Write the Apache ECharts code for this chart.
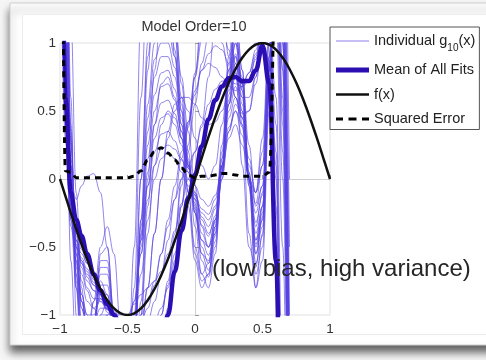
<!DOCTYPE html>
<html lang="en">
<head>
    <meta charset="UTF-8">
    <title>Model Order=10</title>
    <script type="text/javascript" src="https://cdn.jsdelivr.net/npm/echarts@6/dist/echarts.min.js"></script>
    <style>
        html, body { margin: 0; padding: 0; background: #f6f6f6; }
        #chart { width: 486px; height: 360px; }
    </style>
</head>
<body>
<div id="chart"></div>
<script>
    // x positions shared by the fitted curves
    var xs = [-1, -0.96, -0.92, -0.88, -0.84, -0.8, -0.75, -0.7, -0.65, -0.6, -0.55,
        -0.5, -0.45, -0.4, -0.35, -0.3, -0.25, -0.2, -0.15, -0.1, -0.05,
        0, 0.05, 0.1, 0.15, 0.2, 0.25, 0.3, 0.35, 0.4, 0.45, 0.5, 0.55, 0.6, 0.65, 0.7];

    // individual g10(x) fits (values outside [-1,1] are clipped)
    var osc1 = [3.0, 1.1, 0.0, -0.4, -0.62, -0.75, -0.82, -0.85, -0.92, -1.0, -1.08,
        -1.08, -0.9, -0.55, -0.15, 0.1, 0.22, 0.25, 0.22, 0.14, 0.05,
        -0.05, -0.15, -0.2, -0.12, 0.08, 0.3, 0.4, 0.25, 0.0, -0.1, 0.3, 1.1, 1.2, -0.5, -4];
    var osc2 = [3.5, 1.4, 0.1, -0.45, -0.75, -0.9, -0.95, -0.9, -0.95, -1.05, -1.2,
        -1.2, -1.0, -0.55, -0.05, 0.3, 0.45, 0.48, 0.4, 0.25, 0.08,
        -0.1, -0.28, -0.35, -0.22, 0.1, 0.45, 0.6, 0.38, 0.0, -0.25, -0.05, 0.9, 1.6, 0.2, -3];
    var osc3 = [4, 1.8, 0.25, -0.55, -0.95, -1.1, -1.05, -0.85, -0.85, -1.1, -1.35,
        -1.4, -1.1, -0.45, 0.15, 0.5, 0.68, 0.7, 0.58, 0.35, 0.1,
        -0.15, -0.4, -0.5, -0.32, 0.08, 0.55, 0.78, 0.5, 0.0, -0.4, -0.2, 0.8, 2.0, 1.0, -2];
    var osc4 = [4.5, 2.0, 0.3, -0.7, -1.2, -1.3, -1.05, -0.7, -0.7, -1.05, -1.5,
        -1.6, -1.2, -0.4, 0.35, 0.75, 0.9, 0.9, 0.75, 0.45, 0.12,
        -0.2, -0.5, -0.62, -0.42, 0.05, 0.62, 0.92, 0.6, 0.0, -0.55, -0.35, 0.7, 2.2, 1.5, -1.5];
    var osc5 = [5, 2.4, 0.4, -0.8, -1.4, -1.5, -1.1, -0.6, -0.6, -1.0, -1.6,
        -1.8, -1.3, -0.3, 0.55, 1.0, 1.12, 1.1, 0.9, 0.55, 0.15,
        -0.25, -0.6, -0.72, -0.5, 0.05, 0.75, 1.1, 0.7, -0.05, -0.7, -0.5, 0.6, 2.5, 2.5, 0];
    var osc6 = [6, 3, 0.6, -1.0, -1.7, -1.8, -1.3, -0.55, -0.5, -1.0, -1.8,
        -2.1, -1.2, 0.0, 0.9, 1.35, 1.45, 1.35, 1.05, 0.6, 0.1,
        -0.35, -0.7, -0.8, -0.55, 0.1, 0.9, 1.3, 0.8, -0.05, -0.8, -0.6, 0.5, 2.8, 1.2, -2];
    var osc7 = [2.8, 1.0, -0.05, -0.42, -0.65, -0.8, -0.88, -0.88, -0.95, -1.05, -1.15,
        -1.12, -0.9, -0.45, -0.05, 0.2, 0.33, 0.35, 0.28, 0.15, 0.0,
        -0.12, -0.22, -0.26, -0.15, 0.1, 0.38, 0.5, 0.32, 0.02, -0.18, 0.1, 1.0, 1.4, 0.0, -3.5];
    var osc8 = [3.8, 1.6, 0.15, -0.5, -0.85, -1.0, -1.0, -0.88, -0.9, -1.08, -1.28,
        -1.3, -1.05, -0.5, 0.05, 0.4, 0.56, 0.58, 0.48, 0.3, 0.08,
        -0.12, -0.34, -0.42, -0.27, 0.1, 0.5, 0.68, 0.45, 0.02, -0.32, -0.12, 0.85, 1.8, 0.6, -2.5];
    var osc9 = [4.2, 1.9, 0.28, -0.62, -1.05, -1.2, -1.05, -0.78, -0.78, -1.08, -1.42,
        -1.5, -1.15, -0.42, 0.25, 0.62, 0.78, 0.8, 0.66, 0.4, 0.1,
        -0.18, -0.45, -0.56, -0.37, 0.06, 0.58, 0.85, 0.55, 0.0, -0.48, -0.28, 0.75, 2.1, 1.2, -1.8];
    var osc10 = [4.8, 2.2, 0.35, -0.75, -1.3, -1.4, -1.08, -0.65, -0.65, -1.02, -1.55,
        -1.7, -1.25, -0.35, 0.45, 0.88, 1.0, 1.0, 0.82, 0.5, 0.13,
        -0.22, -0.55, -0.67, -0.46, 0.05, 0.68, 1.0, 0.65, -0.02, -0.62, -0.42, 0.65, 2.4, 2.0, -0.5];
    var fol1 = [2.5, 0.5, -0.2, -0.4, -0.52, -0.62, -0.74, -0.84, -0.92, -0.98, -1.02,
        -1.05, -1.08, -1.05, -0.95, -0.78, -0.55, -0.3, -0.05, 0.2, 0.42,
        0.62, 0.8, 0.92, 0.98, 0.95, 0.85, 0.75, 0.7, 0.78, 0.95, 1.15, 1.1, 0.2, -2.5, -6];
    var fol2 = [3, 0.8, -0.15, -0.5, -0.62, -0.7, -0.78, -0.85, -0.92, -1.0, -1.1,
        -1.2, -1.3, -1.35, -1.3, -1.2, -1.0, -0.75, -0.4, 0.0, 0.4,
        0.75, 1.02, 1.2, 1.25, 1.15, 0.95, 0.75, 0.6, 0.6, 0.75, 1.05, 1.2, 0.4, -2, -5];
    var fol3 = [2, 0.3, -0.35, -0.55, -0.7, -0.82, -0.95, -1.05, -1.12, -1.15, -1.15,
        -1.15, -1.2, -1.25, -1.3, -1.3, -1.2, -0.95, -0.6, -0.2, 0.2,
        0.55, 0.85, 1.05, 1.1, 1.0, 0.8, 0.6, 0.48, 0.5, 0.7, 1.0, 1.15, 0.0, -3, -7];
    var fol4 = [3.5, 1.0, -0.05, -0.35, -0.45, -0.55, -0.7, -0.85, -0.98, -1.05, -1.05,
        -1.0, -0.92, -0.85, -0.8, -0.75, -0.68, -0.55, -0.38, -0.18, 0.0,
        0.2, 0.38, 0.55, 0.66, 0.72, 0.72, 0.7, 0.68, 0.72, 0.88, 1.1, 1.05, -0.2, -3, -6];
    var fol5 = [3, 1.3, 0.1, -0.5, -0.9, -1.1, -1.15, -1.0, -0.9, -1.0, -1.25,
        -1.5, -1.0, 0.0, 1.0, 1.6, 1.8, 1.6, 1.1, 0.5, -0.1,
        -0.55, -0.75, -0.7, -0.4, 0.15, 0.75, 1.05, 0.7, 0.05, -0.5, -0.3, 0.7, 2.3, 2.0, -1];
    var wild1 = [6, 4, 1.2, -0.1, -0.8, -1.2, -1.4, -1.2, -1.0, -0.95, -1.0,
        -1.1, -1.2, -1.1, -0.8, -0.4, 0.0, 0.3, 0.5, 0.6, 0.6,
        0.55, 0.45, 0.4, 0.42, 0.5, 0.65, 0.8, 0.9, 0.95, 1.0, 1.05, 1.1, 1.5, 1.0, -2];
    var wild2 = [4, 1.5, 0.0, -0.15, -0.05, 0.02, 0.04, -0.1, -0.5, -1.0, -1.5,
        -1.7, -1.5, -1.0, -0.4, 0.1, 0.4, 0.5, 0.45, 0.3, 0.1,
        -0.1, -0.3, -0.4, -0.3, 0.0, 0.35, 0.55, 0.45, 0.15, -0.1, 0.1, 0.9, 1.8, 0.5, -3];
    var wild3 = [3, 0.7, -0.25, -0.6, -0.85, -1.0, -1.1, -1.1, -1.05, -1.05, -1.1,
        -1.2, -1.25, -1.1, -0.8, -0.4, 0.0, 0.35, 0.55, 0.6, 0.5,
        0.3, 0.1, 0.0, 0.1, 0.4, 0.8, 0.9, 0.4, -0.4, -0.8, -0.4, 0.8, 2, 1.2, -2];
    var ris1 = [3, 0.9, -0.2, -0.6, -0.9, -1.05, -1.05, -0.95, -0.95, -1.1, -1.4,
        -1.6, -0.8, 0.6, 1.6, 2.0, 1.9, 1.5, 0.95, 0.4, -0.1,
        -0.5, -0.7, -0.62, -0.3, 0.25, 0.85, 1.1, 0.7, 0.0, -0.45, -0.2, 0.9, 2.5, 1.5, -2];
    var ris2 = [3.5, 1.2, -0.1, -0.7, -1.05, -1.2, -1.2, -1.05, -1.0, -1.15, -1.4,
        -1.6, -1.5, -0.9, 0.0, 0.8, 1.25, 1.35, 1.15, 0.75, 0.35,
        -0.05, -0.35, -0.5, -0.4, 0.0, 0.55, 0.9, 0.75, 0.25, -0.2, -0.05, 0.8, 2, 0.8, -3];
    var ris3 = [3.2, 1.0, -0.2, -0.65, -0.95, -1.1, -1.1, -1.0, -1.0, -1.2, -1.5,
        -1.5, -0.5, 1.2, 2.2, 2.5, 2.2, 1.6, 0.9, 0.3, -0.2,
        -0.6, -0.8, -0.7, -0.35, 0.2, 0.8, 1.2, 0.8, 0.05, -0.55, -0.3, 0.8, 2.6, 2.0, -1.5];
    var ris4 = [3.6, 1.3, 0.0, -0.55, -0.9, -1.05, -1.1, -1.05, -1.1, -1.3, -1.6,
        -1.9, -1.4, -0.3, 0.8, 1.5, 1.7, 1.55, 1.2, 0.7, 0.2,
        -0.25, -0.55, -0.6, -0.35, 0.15, 0.7, 1.0, 0.65, 0.0, -0.45, -0.25, 0.85, 2.3, 1.8, -2];
    var vert1 = [2.5, 0.4, -0.3, -0.5, -0.6, -0.68, -0.78, -0.88, -0.96, -1.02, -1.05,
        -1.08, -1.1, -1.12, -1.1, -1.05, -0.95, -0.8, -0.55, -0.2, 0.25,
        0.75, 1.25, 1.6, 1.6, 1.3, 0.9, 0.6, 0.45, 0.5, 0.75, 1.1, 1.2, 0.6, -1.5, -5];
    var vert2 = [3, 0.6, -0.2, -0.45, -0.55, -0.62, -0.72, -0.82, -0.9, -0.97, -1.02,
        -1.05, -1.05, -1.0, -0.9, -0.75, -0.55, -0.35, -0.15, 0.0, 0.1,
        0.2, 0.4, 0.75, 1.15, 1.4, 1.3, 0.8, 0.1, -0.5, -0.65, -0.2, 0.8, 1.8, 0.8, -3];
    var vert3 = [2.6, 0.5, -0.25, -0.48, -0.58, -0.66, -0.76, -0.86, -0.94, -1.0, -1.05,
        -1.1, -1.15, -1.2, -1.2, -1.12, -1.0, -0.78, -0.45, -0.05, 0.38,
        0.78, 1.1, 1.35, 1.4, 1.25, 1.05, 0.85, 0.7, 0.72, 0.9, 1.15, 1.1, 0.1, -2.5, -6];
    var low1 = [3, 0.8, -0.3, -0.8, -1.1, -1.15, -0.9, -0.5, -0.35, -0.55, -1.1,
        -1.6, -1.6, -1.0, -0.2, 0.4, 0.7, 0.75, 0.6, 0.35, 0.05,
        -0.25, -0.45, -0.5, -0.3, 0.1, 0.55, 0.75, 0.5, 0.0, -0.35, -0.1, 0.8, 1.9, 1.0, -2.5];
    var low2 = [4, 1.0, -0.6, -1.3, -1.5, -1.3, -0.9, -0.75, -0.85, -1.1, -1.3,
        -1.3, -1.1, -0.7, -0.3, 0.0, 0.15, 0.2, 0.15, 0.05, -0.05,
        -0.15, -0.25, -0.3, -0.2, 0.05, 0.35, 0.5, 0.4, 0.1, -0.1, 0.2, 1.0, 1.6, 0.4, -3];
    var right1 = [2.8, 0.9, -0.1, -0.45, -0.6, -0.72, -0.82, -0.9, -0.96, -1.02, -1.08,
        -1.12, -1.15, -1.12, -1.05, -0.9, -0.7, -0.45, -0.15, 0.15, 0.42,
        0.65, 0.8, 0.85, 0.82, 0.75, 0.68, 0.65, 0.68, 0.78, 0.92, 1.1, 1.3, 1.5, 1.3, -1.5];

    // mean of all fits
    var meanFit = [4, 0.6, -0.1, -0.3, -0.42, -0.55, -0.7, -0.82, -0.92, -1.0, -1.08,
        -1.15, -1.25, -1.35, -1.4, -1.4, -1.25, -1.0, -0.68, -0.38, -0.14,
        0.03, 0.24, 0.44, 0.58, 0.68, 0.74, 0.75, 0.72, 0.72, 0.8, 0.98, 0.7, -0.6, -3, -6];
    // squared error
    var sqErr = [5, 0.06, 0.05, 0.01, 0.01, 0.01, 0.01, 0.01, 0.01, 0.01, 0.01,
        0.01, 0.02, 0.06, 0.14, 0.2, 0.23, 0.19, 0.14, 0.08, 0.03,
        0.01, 0.02, 0.02, 0.03, 0.04, 0.04, 0.03, 0.02, 0.02, 0.02, 0.02, 0.05, 1.6, 5, 9];

    // f(x)
    var fxX = [-1, -0.95, -0.9, -0.85, -0.8, -0.75, -0.7, -0.65, -0.6, -0.55, -0.5, -0.45, -0.4, -0.35, -0.3,
        -0.25, -0.2, -0.15, -0.1, -0.05, 0, 0.05, 0.1, 0.15, 0.2, 0.25, 0.3, 0.35, 0.4, 0.45, 0.5,
        0.55, 0.6, 0.65, 0.7, 0.75, 0.8, 0.85, 0.9, 0.95, 1];
    var fxY = [0, -0.156, -0.309, -0.454, -0.588, -0.707, -0.809, -0.891, -0.951, -0.988, -1, -0.988, -0.951, -0.891, -0.809,
        -0.707, -0.588, -0.454, -0.309, -0.156, 0, 0.156, 0.309, 0.454, 0.588, 0.707, 0.809, 0.891, 0.951, 0.988, 1,
        0.988, 0.951, 0.891, 0.809, 0.707, 0.588, 0.454, 0.309, 0.156, 0];

    var thinFits = [osc1, osc2, osc3, osc4, osc5, osc6, osc7, osc8, osc9, osc10,
        fol1, fol2, fol3, fol4, fol5, wild1, wild2, wild3,
        ris1, ris2, ris3, ris4, vert1, vert2, vert3, low1, low2, right1];

    var FONT = 'Liberation Sans, Arial, Helvetica, sans-serif';
    var THIN = 'rgba(88,68,226,0.65)';

    function pairs(x, y) {
        return x.map(function (v, i) { return [v, y[i]]; });
    }
    function minus(v) {
        return String(v).replace('-', '\u2212');
    }

    var chart = echarts.init(document.getElementById('chart'));
    var series = [];
    thinFits.forEach(function (c) {
        series.push({
            name: 'Individual g10(x)',
            type: 'line',
            data: pairs(xs, c),
            symbol: 'none',
            smooth: 0.4,
            smoothMonotone: 'x',
            clip: true,
            lineStyle: { color: THIN, width: 1 },
            itemStyle: { color: THIN },
            z: 2
        });
    });
    series.push({
        name: 'Mean of All Fits', type: 'line', data: pairs(xs, meanFit),
        symbol: 'none', smooth: 0.4, smoothMonotone: 'x', clip: true,
        lineStyle: { color: '#2b0fb2', width: 4.5 }, itemStyle: { color: '#2b0fb2' }, z: 3
    });
    series.push({
        name: 'f(x)', type: 'line', data: pairs(fxX, fxY),
        symbol: 'none', smooth: 0.4, clip: true,
        lineStyle: { color: '#111', width: 2.5 }, itemStyle: { color: '#111' }, z: 4
    });
    series.push({
        name: 'Squared Error', type: 'line', data: pairs(xs, sqErr),
        symbol: 'none', smooth: 0.4, smoothMonotone: 'x', clip: true,
        lineStyle: { color: '#000', width: 3, type: [6, 5] }, itemStyle: { color: '#000' }, z: 5
    });

    var option = {
        animation: false,
        backgroundColor: '#f6f6f6',
        textStyle: { fontFamily: FONT },
        graphic: [
            { type: 'rect', z: -10, shape: { x: 10, y: 3, width: 500, height: 342 },
                style: { fill: '#fff', stroke: '#cfcfcf', lineWidth: 1,
                    shadowBlur: 8, shadowOffsetY: 7, shadowColor: 'rgba(0,0,0,0.6)' } },
            { type: 'rect', z: -9, shape: { x: 22.5, y: 14.5, width: 480, height: 320 },
                style: { fill: '#fff', stroke: '#ececec', lineWidth: 1 } },
            { type: 'text', z: 10, x: 194, y: 27,
                style: { text: 'Model Order=10', fill: '#333', fontSize: 14.5,
                    fontFamily: FONT, textAlign: 'center', textVerticalAlign: 'middle' } },
            { type: 'text', z: 100, x: 212, y: 269,
                style: { text: '(low bias, high variance)', fill: '#262626', fontSize: 24,
                    fontFamily: FONT, textVerticalAlign: 'middle' } }
        ],
        grid: {
            left: 60, right: 156, top: 43, bottom: 45,
            show: true, backgroundColor: '#fff', borderColor: '#e2e2e2', borderWidth: 1
        },
        legend: {
            left: 330, top: 27, orient: 'vertical',
            padding: [6, 4, 3, 6], itemGap: 9.5,
            itemWidth: 33, itemHeight: 14,
            borderColor: '#555', borderWidth: 1, backgroundColor: '#fff',
            data: [
                { name: 'Individual g10(x)', icon: 'path://M0,0M33,14M0,6.5h33v1h-33z',
                    itemStyle: { color: '#8c80ec' } },
                { name: 'Mean of All Fits', icon: 'path://M0,0M33,14M0,4.5h33v5h-33z',
                    itemStyle: { color: '#2b0fb2' } },
                { name: 'f(x)', icon: 'path://M0,0M33,14M0,5.75h33v2.5h-33z',
                    itemStyle: { color: '#111' } },
                { name: 'Squared Error', icon: 'path://M0,0M33,14M0,5.5h7v3h-7zM12.5,5.5h8v3h-8zM26,5.5h7v3h-7z',
                    itemStyle: { color: '#000' } }
            ],
            formatter: function (name) {
                if (name === 'Individual g10(x)') return '{a|Individual g}{s|10}{a|(x)}';
                return '{a|' + name + '}';
            },
            textStyle: {
                color: '#222',
                rich: {
                    a: { fontSize: 14.5, lineHeight: 20, color: '#222', fontFamily: FONT },
                    s: { fontSize: 10, lineHeight: 24, verticalAlign: 'bottom', padding: [10, 0, 0, 0],
                        color: '#222', fontFamily: FONT }
                }
            }
        },
        xAxis: {
            type: 'value', min: -1, max: 1, interval: 0.5,
            axisLine: { lineStyle: { color: '#d0d0d0' } },
            axisTick: { inside: true, length: 4, lineStyle: { color: '#999' } },
            splitLine: { show: false },
            axisLabel: { color: '#333', fontSize: 13.5, margin: 7, formatter: minus }
        },
        yAxis: {
            type: 'value', min: -1, max: 1, interval: 0.5,
            axisLine: { show: true, lineStyle: { color: '#d0d0d0' } },
            axisTick: { show: true, inside: true, length: 4, lineStyle: { color: '#999' } },
            splitLine: { show: false },
            axisLabel: { color: '#333', fontSize: 13.5, margin: 4, formatter: minus }
        },
        series: series
    };
    chart.setOption(option);
    window.onresize = function () {
        chart.resize();
    };
</script>
</body>
</html>
